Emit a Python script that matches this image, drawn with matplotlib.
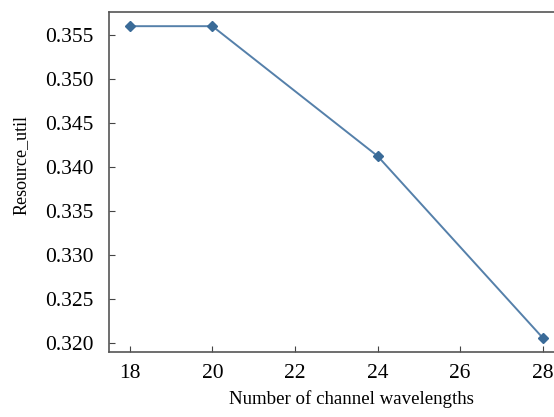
import matplotlib.pyplot as plt

# data
wavelengths = [18, 20, 24, 28]
resource_util = [0.3560, 0.3560, 0.34125, 0.3206]

plt.rcParams['font.family'] = ['Liberation Serif', 'DejaVu Serif']

fig = plt.figure(figsize=(5.54, 4.17), dpi=100)
ax = fig.add_axes([0.197, 0.156, 0.82, 0.815])

ax.plot(wavelengths, resource_util, color='#5580aa', linewidth=1.4,
        marker='D', markersize=5, markerfacecolor='#3a6b98', markeredgecolor='#3a6b98')

ax.set_xlim(17.5, 28.5)
ax.set_ylim(0.319, 0.3576)
ax.set_xticks([18, 20, 22, 24, 26, 28])
ax.set_yticks([0.320, 0.325, 0.330, 0.335, 0.340, 0.345, 0.350, 0.355])
ax.set_yticklabels([f'{v:.3f}' for v in ax.get_yticks()])

ax.tick_params(direction='in', labelsize=15.5, length=4, color='#444444', top=False, right=False)
ax.tick_params(axis='x', pad=9)
ax.tick_params(axis='y', pad=11)
for s in ax.spines.values():
    s.set_color('#555555')
    s.set_linewidth(1.2)

ax.set_xlabel('Number of channel wavelengths', fontsize=13.6)
ax.set_ylabel('Resource_util', fontsize=13)
ax.xaxis.set_label_coords(0.533, -0.112)
ax.yaxis.set_label_coords(-0.176, 0.55)

fig.savefig('out.png', dpi=100)
